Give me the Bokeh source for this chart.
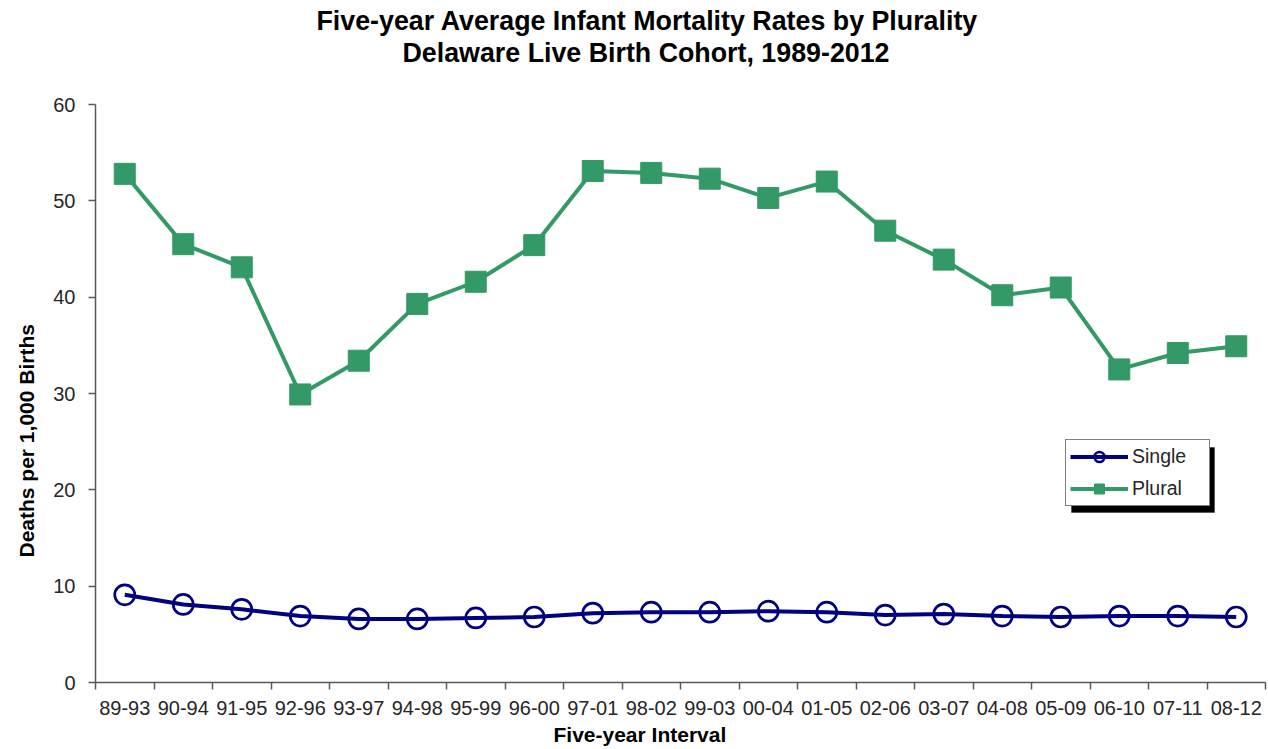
from bokeh.plotting import figure
from bokeh.models import (Range1d, FixedTicker, Legend, LegendItem, Title,
                          BoxAnnotation, ColumnDataSource)
from bokeh.embed import file_html
from bokeh.resources import INLINE

intervals = ["89-93", "90-94", "91-95", "92-96", "93-97", "94-98", "95-99",
             "96-00", "97-01", "98-02", "99-03", "00-04", "01-05", "02-06",
             "03-07", "04-08", "05-09", "06-10", "07-11", "08-12"]
single = [9.1, 8.1, 7.6, 6.9, 6.6, 6.6, 6.7, 6.8, 7.2, 7.3, 7.3, 7.4, 7.3,
          7.0, 7.1, 6.9, 6.8, 6.9, 6.9, 6.8]
plural = [52.8, 45.5, 43.1, 29.9, 33.4, 39.3, 41.6, 45.4, 53.1, 52.9, 52.3,
          50.3, 52.0, 46.9, 43.9, 40.2, 41.0, 32.5, 34.2, 34.9]
y_ticks = [0, 10, 20, 30, 40, 50, 60]

title_lines = ["Five-year Average Infant Mortality Rates by Plurality",
               "Delaware Live Birth Cohort, 1989-2012"]
x_title = "Five-year Interval"
y_title = "Deaths per 1,000 Births"

FONT = "Liberation Sans"
AXIS_COLOR = "#595959"
TEXT_COLOR = "#262626"
GREEN = "#339966"
NAVY = "#000080"

idx = list(range(len(intervals)))
src = ColumnDataSource(dict(x=idx, single=single, plural=plural))

p = figure(width=1268, height=749, output_backend="svg", toolbar_location=None,
           x_range=Range1d(-0.5, len(intervals) - 0.5), y_range=Range1d(0, 60),
           min_border_left=93, min_border_right=3, min_border_top=104,
           min_border_bottom=67)
p.outline_line_color = None
p.xgrid.visible = False
p.ygrid.visible = False
p.background_fill_color = "white"
p.border_fill_color = "white"

# x axis: labels at category centres, tick marks at category boundaries
xa = p.xaxis[0]
xa.ticker = FixedTicker(ticks=idx, minor_ticks=[i - 0.5 for i in range(len(intervals) + 1)])
xa.major_label_overrides = {i: lab for i, lab in enumerate(intervals)}
xa.major_tick_line_color = None
xa.major_tick_out = 0
xa.major_tick_in = 0
xa.minor_tick_out = 7
xa.minor_tick_in = 0
xa.minor_tick_line_color = AXIS_COLOR
xa.minor_tick_line_width = 1.5
xa.axis_line_color = AXIS_COLOR
xa.axis_line_width = 1.5
xa.major_label_standoff = 11
xa.major_label_text_font = FONT
xa.major_label_text_font_size = "20px"
xa.major_label_text_color = TEXT_COLOR

ya = p.yaxis[0]
ya.ticker = FixedTicker(ticks=y_ticks, minor_ticks=[])
ya.major_tick_out = 7
ya.major_tick_in = 0
ya.major_tick_line_color = AXIS_COLOR
ya.major_tick_line_width = 1.5
ya.minor_tick_line_color = None
ya.axis_line_color = AXIS_COLOR
ya.axis_line_width = 1.5
ya.major_label_standoff = 13
ya.major_label_text_font = FONT
ya.major_label_text_font_size = "20px"
ya.major_label_text_color = TEXT_COLOR

# series
pl_line = p.line("x", "plural", source=src, line_color=GREEN, line_width=4)
pl_mark = p.scatter("x", "plural", source=src, marker="square", size=21,
                    fill_color=GREEN, line_color=GREEN)
si_line = p.line("x", "single", source=src, line_color=NAVY, line_width=4)
si_mark = p.scatter("x", "single", source=src, marker="circle", size=20,
                    fill_color=None, line_color=NAVY, line_width=2.7)

# legend with drop shadow
leg_x, leg_y = 970, 176
leg_w, leg_h = 143, 65
shadow = BoxAnnotation(left=leg_x + 6, right=leg_x + leg_w + 6,
                       bottom=leg_y - 6, top=leg_y + leg_h - 6,
                       left_units="screen", right_units="screen",
                       top_units="screen", bottom_units="screen",
                       fill_color="black", fill_alpha=1.0, line_color="black",
                       level="underlay")
p.add_layout(shadow)

legend = Legend(items=[LegendItem(label="Single", renderers=[si_line, si_mark]),
                       LegendItem(label="Plural", renderers=[pl_line, pl_mark])],
                location=(leg_x, leg_y), margin=0, padding=4, spacing=7,
                glyph_width=58, glyph_height=25, label_height=25,
                label_width=73, label_standoff=4,
                label_text_font=FONT, label_text_font_size="19.5px",
                label_text_color=TEXT_COLOR,
                border_line_color="black", border_line_width=1,
                background_fill_color="white", background_fill_alpha=1.0)
p.add_layout(legend, "center")

# chart title: two centred lines above the plot (spacer keeps the gap)
p.add_layout(Title(text=" ", text_font_size="1px", standoff=34), "above")
p.add_layout(Title(text=title_lines[1], align="left", offset=307,
                   text_font=FONT, text_font_style="bold",
                   text_font_size="26.8px", text_color="black", standoff=0), "above")
p.add_layout(Title(text=title_lines[0], align="left", offset=221,
                   text_font=FONT, text_font_style="bold",
                   text_font_size="26.8px", text_color="black", standoff=0), "above")

# axis titles
p.add_layout(Title(text=y_title, align="left", offset=125,
                   text_font=FONT, text_font_style="bold",
                   text_font_size="21px", text_color="black", standoff=25), "left")
p.add_layout(Title(text=x_title, align="left", offset=458,
                   text_font=FONT, text_font_style="bold",
                   text_font_size="21px", text_color="black", standoff=6), "below")

open("out.html", "w").write(file_html(p, INLINE))
